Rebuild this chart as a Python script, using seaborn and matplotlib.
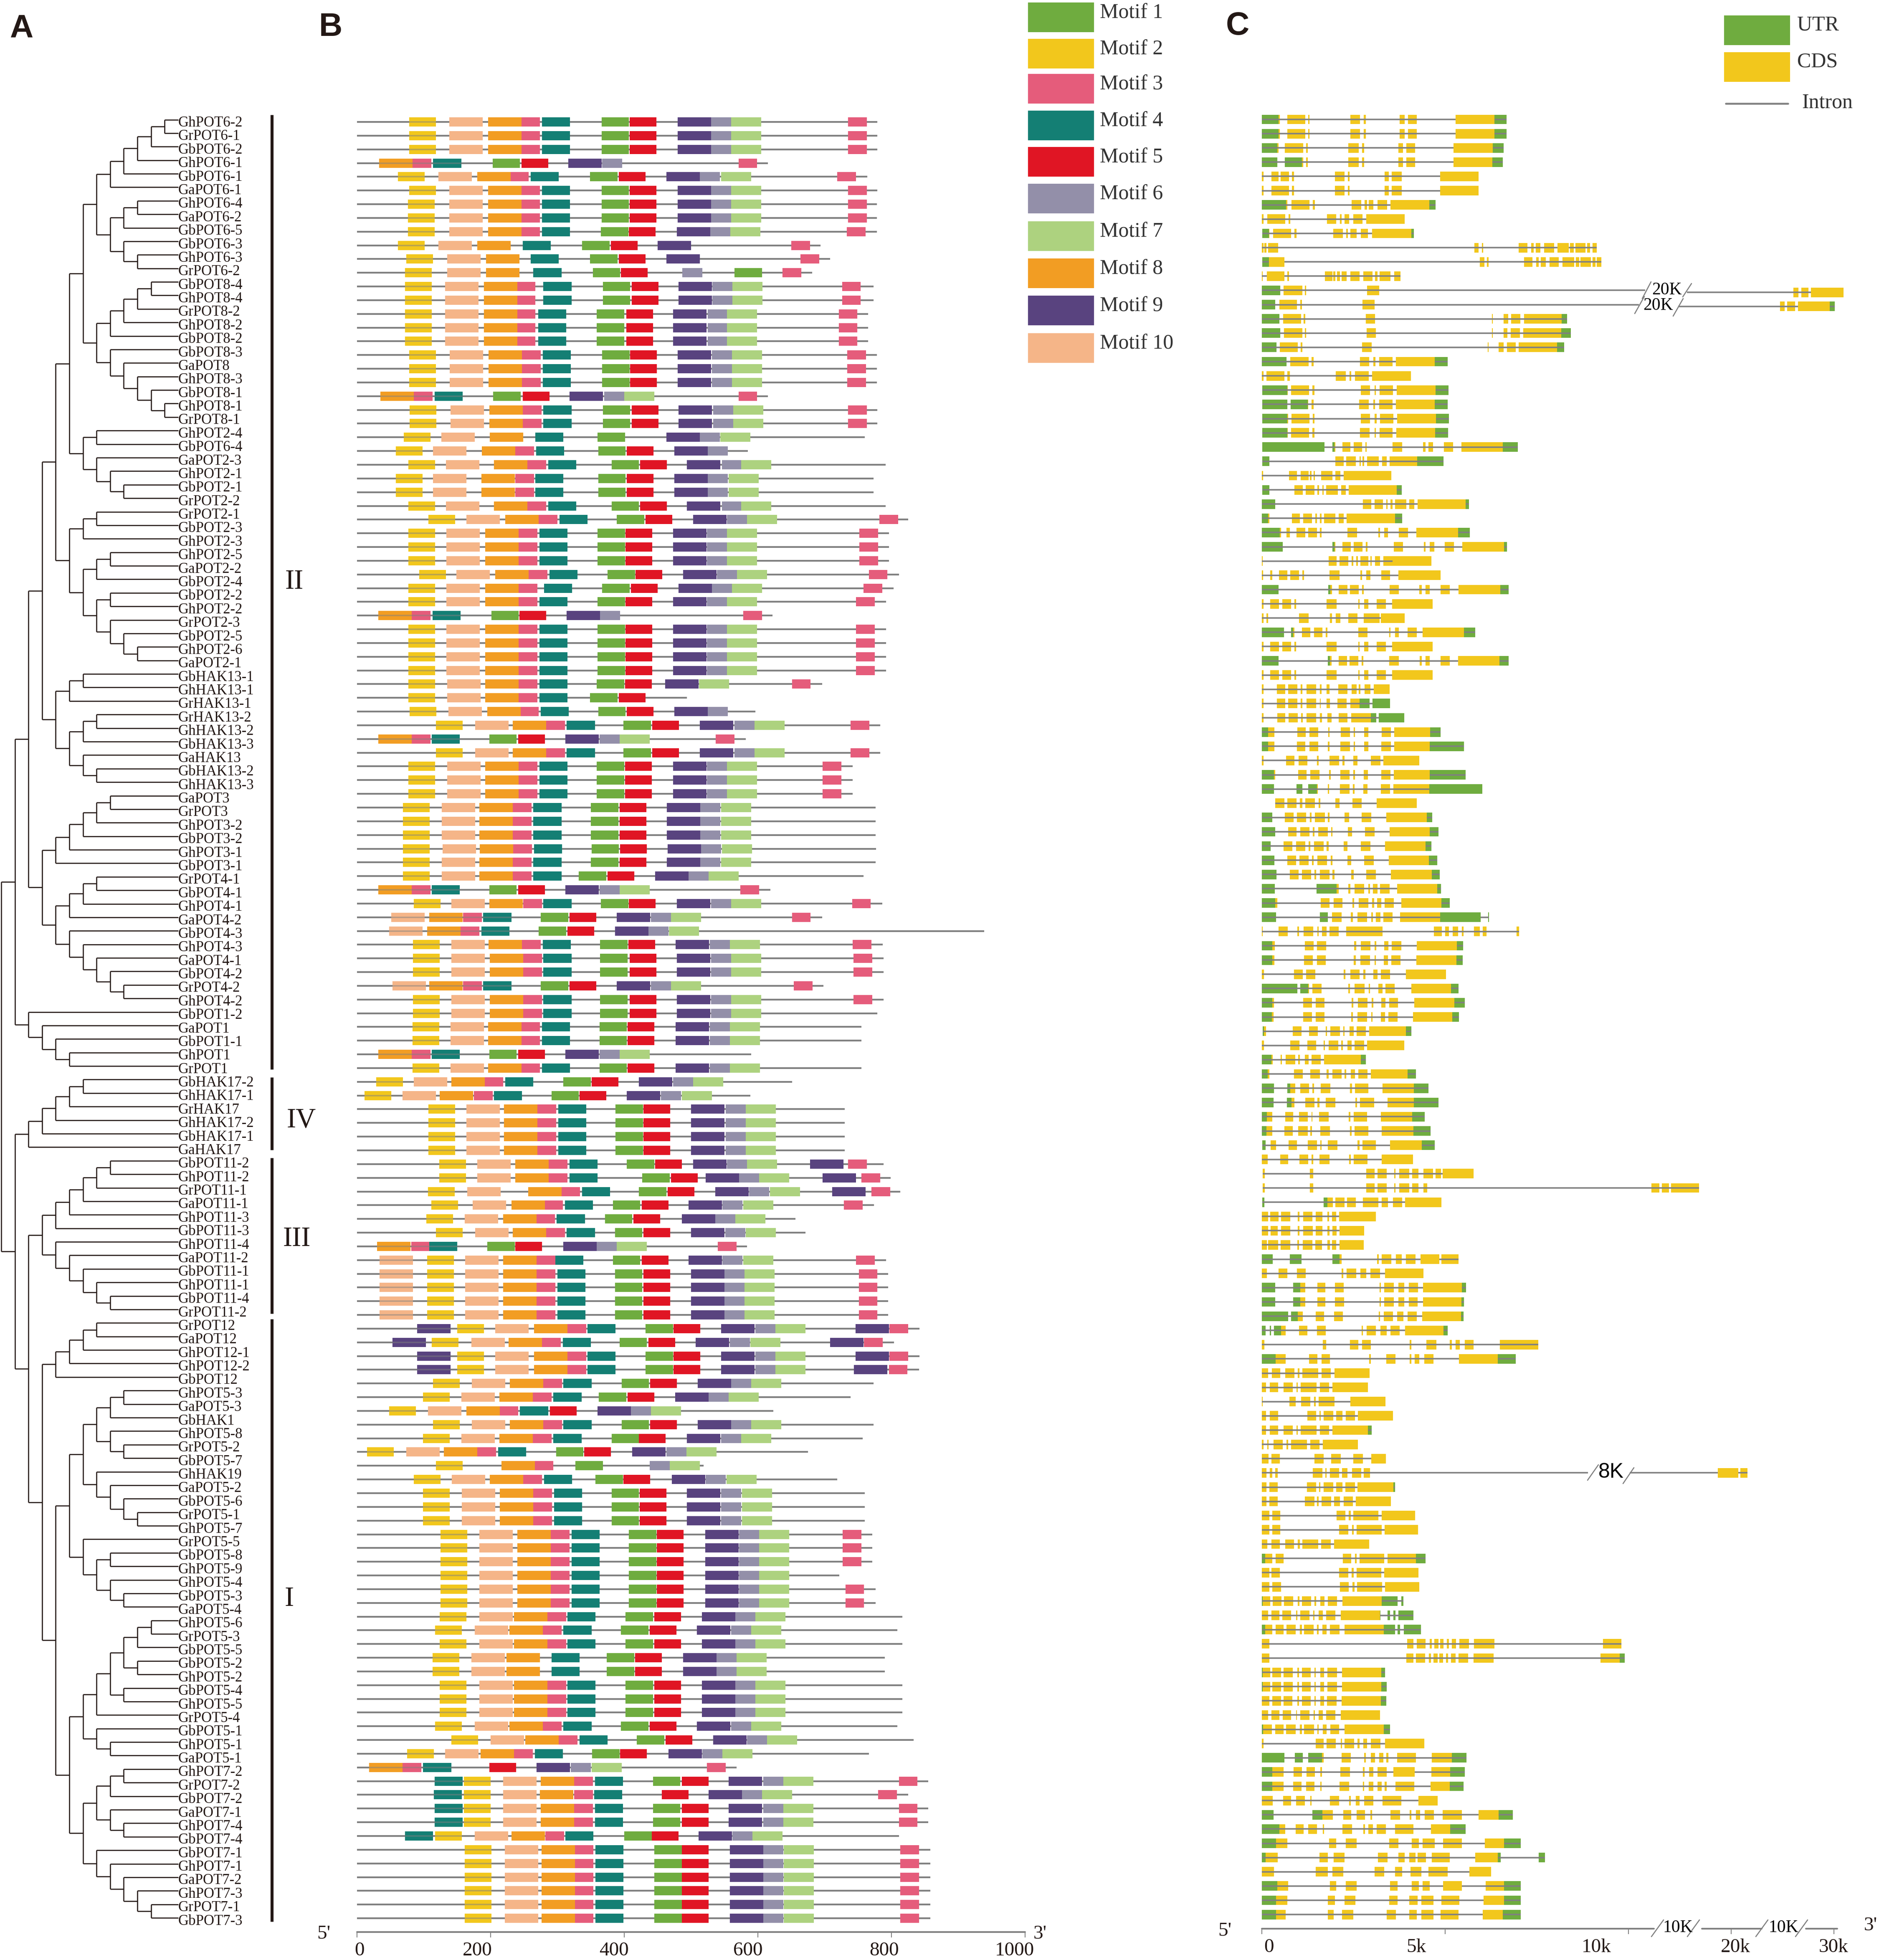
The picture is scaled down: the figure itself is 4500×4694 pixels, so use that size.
"""
Gene family figure: A cladogram, B conserved motifs, C exon/intron structure.
Rows in the three panels are not aligned (134 / 132 / 127), same as the source.
"""
import matplotlib.pyplot as plt
import pandas as pd
import seaborn as sns

W, H = 4500, 4694
PT = 72 / 100  # one picture pixel in points at dpi 100
INK = "#231815"
GREY = "#808080"
_ = None

# ---- panel A: tree, depth of a node = how deep the list is nested
pot6_upper = [[[[["GhPOT6-2", "GrPOT6-1"], "GbPOT6-2"], "GhPOT6-1"], "GbPOT6-1"], "GaPOT6-1"]
pot6_lower = [[["GhPOT6-4", "GaPOT6-2"], "GbPOT6-5"], ["GbPOT6-3", ["GhPOT6-3", "GrPOT6-2"]]]
pot8_upper = [[[["GbPOT8-4", "GhPOT8-4"], "GrPOT8-2"], "GhPOT8-2"], "GbPOT8-2"]
pot8_lower = ["GbPOT8-3", ["GaPOT8", ["GhPOT8-3", ["GbPOT8-1", ["GhPOT8-1", "GrPOT8-1"]]]]]
pot2_a = [["GhPOT2-4", "GbPOT6-4"], ["GaPOT2-3", ["GhPOT2-1", ["GbPOT2-1", "GrPOT2-2"]]]]
pot2_b = [[["GrPOT2-1", "GbPOT2-3"], "GhPOT2-3"],
          [[["GhPOT2-5", "GaPOT2-2"], "GbPOT2-4"],
           [["GbPOT2-2", "GhPOT2-2"], ["GrPOT2-3", ["GbPOT2-5", ["GhPOT2-6", "GaPOT2-1"]]]]]]
hak13 = [[["GbHAK13-1", "GhHAK13-1"], "GrHAK13-1"],
         [[["GrHAK13-2", "GhHAK13-2"], "GbHAK13-3"], ["GaHAK13", ["GbHAK13-2", "GhHAK13-3"]]]]
pot3 = [[[[["GaPOT3", "GrPOT3"], "GhPOT3-2"], "GbPOT3-2"], "GhPOT3-1"], "GbPOT3-1"]
pot4 = [[[["GrPOT4-1", "GbPOT4-1"], "GhPOT4-1"], "GaPOT4-2"],
        ["GbPOT4-3", ["GhPOT4-3", ["GaPOT4-1", ["GbPOT4-2", ["GrPOT4-2", "GhPOT4-2"]]]]]]
pot1 = ["GbPOT1-2", ["GaPOT1", ["GbPOT1-1", ["GhPOT1", "GrPOT1"]]]]
hak17 = [[[[["GbHAK17-2", "GhHAK17-1"], "GrHAK17"], "GhHAK17-2"], "GbHAK17-1"], "GaHAK17"]
pot11 = [[[[[["GbPOT11-2", "GhPOT11-2"], "GrPOT11-1"], "GaPOT11-1"], "GhPOT11-3"], "GbPOT11-3"],
         ["GhPOT11-4", ["GaPOT11-2", ["GbPOT11-1", ["GhPOT11-1", ["GbPOT11-4", "GrPOT11-2"]]]]]]
pot12 = [[[["GrPOT12", "GaPOT12"], "GhPOT12-1"], "GhPOT12-2"], "GbPOT12"]
pot5_a = [[[[[["GhPOT5-3", "GaPOT5-3"], "GbHAK1"], ["GhPOT5-8", ["GrPOT5-2", "GbPOT5-7"]]],
            ["GhHAK19", ["GaPOT5-2", ["GbPOT5-6", ["GrPOT5-1", "GhPOT5-7"]]]]],
           ["GrPOT5-5", [["GbPOT5-8", "GhPOT5-9"], ["GhPOT5-4", ["GbPOT5-3", "GaPOT5-4"]]]]]]
pot5_a = pot5_a[0]
pot5_b = [[[[[["GhPOT5-6", "GrPOT5-3"], "GbPOT5-5"], ["GbPOT5-2", "GhPOT5-2"]],
            ["GbPOT5-4", "GhPOT5-5"]], "GrPOT5-4"],
          ["GbPOT5-1", ["GhPOT5-1", "GaPOT5-1"]]]
pot7 = [[[["GhPOT7-2", "GrPOT7-2"], "GbPOT7-2"], ["GaPOT7-1", ["GhPOT7-4", "GbPOT7-4"]]],
        ["GbPOT7-1", ["GhPOT7-1", ["GaPOT7-2", ["GhPOT7-3", ["GrPOT7-1", "GbPOT7-3"]]]]]]
tree = [[[[[[[[pot6_upper, pot6_lower], [pot8_upper, pot8_lower]], pot2_a], pot2_b], hak13],
          [pot3, pot4]], pot1],
        [hak17, [pot11, [pot12, [pot5_a, [pot5_b, pot7]]]]]]

# ---- panel B: motif starts in aa
# order: M2, M10, M8, M3, M4, M1, M5, M9, M6, M7, last M3, protein length
motif_order = ["Motif 2", "Motif 10", "Motif 8", "Motif 3", "Motif 4", "Motif 1",
               "Motif 5", "Motif 9", "Motif 6", "Motif 7", "Motif 3"]
motifs_pot6 = [
    (78, 138, 196, 246, 277, 366, 408, 480, 530, 560, 735, 779),
    (78, 138, 196, 246, 277, 366, 408, 480, 530, 560, 735, 779),
    (78, 138, 196, 246, 277, 366, 408, 480, 530, 560, 735, 779),
    (_, _, 33, 83, 114, 203, 246, 316, 367, _, 571, 615),
    (61, 122, 180, 229, 260, 349, 392, 463, 513, 545, 719, 764),
    (78, 138, 196, 246, 277, 366, 408, 480, 530, 560, 735, 779),
    (76, 138, 196, 246, 277, 366, 408, 480, 530, 560, 735, 778),
    (76, 138, 196, 246, 277, 366, 408, 480, 530, 560, 735, 778),
    (76, 138, 196, 246, 277, 365, 407, 479, 529, 559, 733, 778),
    (61, 122, 180, _, 248, 337, 380, 450, _, _, 650, 694),
    (74, 135, 193, _, 260, 349, 392, 463, _, _, 664, 708),
    (72, 135, 193, _, 264, 353, 395, _, 487, _, 637, 681),
]
motifs_pot8 = [
    (72, 132, 190, 239, 279, 368, 411, 481, 532, 562, 726, 773),
    (72, 132, 190, 239, 279, 368, 411, 481, 532, 562, 726, 773),
    (72, 132, 190, 239, 271, 359, 403, 473, 525, 554, 721, 765),
    (72, 132, 190, 239, 271, 359, 403, 473, 525, 554, 721, 765),
    (72, 132, 190, 239, 271, 359, 403, 473, 525, 554, 721, 765),
    (78, 139, 197, 247, 278, 367, 409, 480, 531, 561, 734, 778),
    (78, 139, 197, 247, 278, 367, 409, 480, 531, 561, 734, 778),
    (78, 139, 197, 247, 278, 367, 409, 480, 531, 561, 734, 778),
    (_, _, 35, 85, 116, 204, 248, 318, 370, 400, 571, 615),
    (79, 140, 198, 248, 279, 368, 411, 481, 533, 563, 735, 779),
    (79, 140, 198, 248, 279, 368, 411, 481, 533, 563, 735, 779),
]
motifs_pot2 = [
    (70, 126, 199, _, 267, 360, _, 463, 513, 544, _, 760),
    (58, 114, 187, 237, 268, 361, 404, 475, 525, _, _, 585),
    (77, 133, 205, 255, 286, 381, 424, 494, 546, 575, _, 791),
    (58, 114, 186, 237, 267, 361, 404, 475, 525, 556, _, 773),
    (58, 114, 186, 237, 267, 361, 404, 475, 525, 556, _, 773),
    (77, 133, 205, 255, 286, 381, 424, 494, 546, 575, _, 791),
    (107, 164, 222, 272, 303, 389, 432, 503, 554, 584, 782, 825),
    (77, 134, 192, 242, 273, 360, 402, 473, 524, 554, 752, 796),
    (77, 134, 192, 242, 273, 360, 402, 473, 524, 554, 752, 796),
    (77, 134, 192, 242, 273, 360, 402, 473, 524, 554, 752, 796),
    (93, 149, 207, 257, 288, 375, 417, 488, 539, 569, 766, 811),
    (77, 134, 192, 242, 280, 367, 410, 481, 531, 561, 758, 803),
    (77, 134, 192, 242, 273, 360, 402, 473, 524, 554, 747, 792),
    (_, _, 32, 82, 113, 201, 243, 314, 364, _, 578, 622),
    (77, 134, 192, 242, 273, 360, 402, 473, 524, 554, 747, 792),
    (77, 134, 192, 242, 273, 360, 402, 473, 524, 554, 747, 792),
    (77, 134, 192, 242, 273, 360, 402, 473, 524, 554, 747, 792),
    (77, 134, 192, 242, 273, 360, 402, 473, 524, 554, 747, 792),
]
motifs_hak13 = [
    (77, 135, 192, 242, 273, 359, 401, 461, _, 512, 651, 696),
    (77, 135, 192, 242, 273, 349, 392, _, _, _, _, 494),
    (79, 137, 195, 244, 275, 361, 404, 475, 525, _, _, 596),
    (118, 177, 233, 283, 314, 399, 442, 513, 565, 595, 739, 783),
    (_, _, 32, 82, 112, 198, 241, 312, 363, 393, 537, 582),
    (118, 177, 233, 283, 314, 399, 442, 513, 565, 595, 739, 783),
    (77, 135, 192, 242, 273, 359, 401, 473, 524, 554, 697, 742),
    (77, 135, 192, 242, 273, 359, 401, 473, 524, 554, 697, 742),
    (77, 135, 192, 242, 273, 359, 401, 473, 524, 554, 697, 742),
]
motifs_pot34 = [
    (69, 127, 183, 233, 264, 350, 393, 464, 514, 545, _, 776),
    (69, 127, 183, 233, 264, 350, 393, 464, 514, 545, _, 776),
    (69, 127, 183, 233, 264, 350, 393, 464, 514, 545, _, 776),
    (69, 128, 184, 234, 265, 351, 394, 465, 515, 546, _, 777),
    (69, 127, 183, 233, 264, 350, 393, 464, 514, 545, _, 776),
    (69, 127, 183, 233, 264, 332, 375, 446, 496, 526, _, 758),
    (_, _, 32, 82, 112, 198, 241, 312, 363, 393, 574, 619),
    (85, 141, 198, 249, 279, 365, 407, 479, 530, 560, 741, 786),
    (_, 51, 108, 159, 189, 275, 318, 389, 440, 470, 651, 696),
    (_, 48, 105, 155, 186, 272, 315, 386, 436, 467, _, 939),
    (84, 141, 197, 247, 278, 364, 406, 477, 528, 558, 742, 787),
    (84, 141, 199, 249, 279, 364, 408, 479, 530, 560, 743, 788),
    (84, 141, 199, 249, 279, 364, 408, 479, 530, 560, 743, 788),
    (_, 53, 108, 159, 189, 275, 318, 389, 440, 470, 654, 698),
    (84, 141, 199, 249, 279, 364, 408, 479, 530, 560, 743, 788),
]
motifs_pot1_hak17 = [
    (84, 141, 199, 249, 279, 364, 408, 479, 530, 560, _, 779),
    (83, 140, 196, 246, 277, 363, 405, 477, 528, 558, _, 755),
    (83, 140, 196, 246, 277, 363, 405, 477, 528, 558, _, 755),
    (_, _, 32, 82, 112, 198, 241, 312, 363, 393, _, 590),
    (83, 140, 196, 246, 277, 363, 405, 477, 528, 558, _, 755),
    (29, 85, 141, 191, 222, 309, 351, 422, 473, 503, _, 651),
    (11, 68, 124, 175, 205, 291, 333, 404, 455, 486, _, 589),
    (107, 164, 220, 270, 301, 387, 429, 500, 552, 582, _, 730),
    (107, 164, 220, 270, 301, 387, 429, 500, 552, 582, _, 730),
    (107, 164, 220, 270, 301, 387, 429, 500, 552, 582, _, 730),
    (107, 164, 220, 270, 301, 387, 429, 500, 552, 582, _, 730),
]
motifs_pot11 = [
    (123, 180, 237, 287, 318, 404, 446, 503, 554, 584, 735, 788),
    (123, 180, 237, 287, 318, 427, 470, 522, 572, 602, 755, 799),
    (106, 165, 256, 306, 337, 422, 465, 536, 587, 618, 770, 813),
    (111, 173, 231, 280, 311, 383, 426, 496, 547, 578, 729, 774),
    (104, 161, 219, 268, 299, 371, 414, 486, 536, 566, _, 656),
    (118, 177, 233, 283, 314, 386, 429, 500, 551, 582, _, 671),
    (_, _, 30, 81, 108, 195, 237, 309, 359, 389, 540, 584),
    (105, 162, 219, 269, 297, 383, 426, 496, 547, 578, 747, 792),
    (105, 162, 219, 269, 300, 386, 429, 500, 550, 580, 751, 795),
    (105, 162, 219, 269, 300, 386, 429, 500, 550, 580, 751, 795),
    (105, 162, 219, 269, 300, 386, 429, 500, 550, 580, 751, 795),
    (105, 162, 219, 269, 300, 386, 429, 500, 550, 580, 751, 795),
]
motifs_pot12 = [
    (150, 207, 265, 315, 345, 432, 474, 545, 596, 626, 797, 842),
    (112, 171, 227, 277, 308, 393, 436, 507, 558, 589, 759, 804),
    (150, 207, 265, 315, 345, 432, 474, 545, 596, 626, 797, 842),
    (150, 207, 265, 315, 345, 432, 474, 545, 596, 626, 796, 841),
    (114, 172, 229, 279, 309, 396, 439, 510, 560, 590, _, 773),
]
motifs_pot5 = [
    (99, 156, 213, 263, 294, 362, 405, 476, 526, 556, _, 739),
    (48, 106, 164, 213, 244, _, 289, 360, 410, 440, _, 623),
    (114, 172, 229, 279, 309, 396, 439, 510, 560, 590, _, 773),
    (99, 156, 213, 263, 294, 381, 422, 494, 545, 575, _, 757),
    (15, 74, 130, 180, 211, 298, 340, 412, 463, 493, _, 675),
    (118, _, 216, 266, _, 327, _, _, 438, 468, _, 519),
    (85, 142, 199, 249, 280, 357, 399, 471, 522, 553, _, 719),
    (99, 157, 214, 264, 295, 381, 423, 494, 545, 576, _, 760),
    (99, 157, 214, 264, 295, 381, 423, 494, 545, 576, _, 760),
    (99, 157, 214, 264, 295, 381, 423, 494, 545, 576, _, 760),
    (125, 183, 240, 290, 321, 407, 449, 521, 572, 602, 727, 771),
    (125, 183, 240, 290, 321, 407, 449, 521, 572, 602, 727, 771),
    (125, 183, 240, 290, 321, 407, 449, 521, 572, 602, 727, 771),
    (125, 183, 240, 290, 321, 407, 449, 521, 572, 602, _, 722),
    (125, 183, 240, 290, 321, 407, 449, 521, 572, 602, 731, 776),
    (125, 183, 240, 290, 321, 407, 449, 521, 572, 602, 731, 776),
    (124, 183, 235, 285, 315, 402, 445, 516, 566, 596, _, 816),
    (117, 176, 228, 278, 309, 395, 438, 509, 560, 590, _, 809),
    (124, 183, 235, 285, 315, 402, 445, 516, 566, 596, _, 816),
    (113, 171, 224, _, 291, 374, 416, 488, 538, 568, _, 790),
    (113, 171, 224, _, 291, 374, 416, 488, 538, 568, _, 790),
    (124, 183, 235, 285, 315, 402, 445, 516, 566, 596, _, 816),
    (124, 183, 235, 285, 315, 402, 445, 516, 566, 596, _, 816),
    (124, 183, 235, 285, 315, 402, 445, 516, 566, 596, _, 816),
    (117, 176, 228, 278, 309, 395, 438, 509, 560, 590, _, 809),
    (141, 200, 252, 302, 333, 419, 462, 533, 584, 614, _, 833),
    (75, 132, 185, 235, 266, 352, 394, 466, 517, 547, _, 766),
]
motifs_pot7 = [
    (_, _, 18, 68, 99, _, 198, 269, 320, 351, 524, 568),
    (160, 219, 275, 325, 356, 443, 486, 556, 608, 638, 811, 855),
    (160, 219, 274, 325, 355, _, 456, 526, 576, 606, 780, 825),
    (160, 219, 275, 325, 356, 443, 486, 556, 608, 638, 811, 855),
    (160, 219, 275, 325, 356, 443, 486, 556, 608, 638, 811, 855),
    (117, 176, 231, 282, 312, 400, 441, 511, 562, 592, _, 811),
    (161, 221, 276, 326, 357, 445, 486, 558, 608, 639, 813, 858),
    (161, 221, 276, 326, 357, 445, 486, 558, 608, 639, 813, 858),
    (161, 221, 276, 326, 357, 445, 486, 558, 608, 639, 813, 858),
    (161, 221, 276, 326, 357, 445, 486, 558, 608, 639, 813, 858),
    (161, 221, 276, 326, 357, 445, 486, 558, 608, 639, 813, 858),
    (161, 221, 276, 326, 357, 445, 486, 558, 608, 639, 813, 858),
]
# motif copies that do not fit the usual order, row -> start
extra_motif1 = {11: 565}
extra_motif9 = {76: 678, 77: 697, 78: 711, 88: 90, 89: 53, 90: 90, 91: 90}
extra_motif9_late = {88: 746, 89: 708, 90: 746, 91: 744}
extra_motif10 = {83: 34, 84: 34, 85: 34, 86: 34, 87: 34}
extra_motif4 = {121: 116, 122: 115, 123: 116, 124: 116, 125: 72}
motif_lengths = {"Motif 1": 41, "Motif 2": 40, "Motif 3": 28, "Motif 4": 42, "Motif 5": 40,
                 "Motif 6": 30, "Motif 7": 45, "Motif 8": 50, "Motif 9": 50, "Motif 10": 50}
motif_colors = {"Motif 1": "#6FAC3F", "Motif 2": "#F2C71C", "Motif 3": "#E55C7B",
                "Motif 4": "#147F74", "Motif 5": "#E01524", "Motif 6": "#938FA9",
                "Motif 7": "#ADD27F", "Motif 8": "#F29D23", "Motif 9": "#59437F",
                "Motif 10": "#F5B588"}

# ---- panel C: exons in units of 10 bp, u = UTR, c = CDS
exons_top = [
    "u0-46 c46-49 c69-118 c126-130 c242-268 c278-284 c376-389 c399-423 c528-634 u634-667",
    "u0-46 c46-49 c69-118 c126-130 c242-268 c278-284 c376-389 c399-423 c528-634 u634-667",
    "u0-42 c42-46 c63-113 c121-125 c236-264 c273-279 c372-385 c394-418 c523-630 u630-659",
    "u0-42 u63-109 c109-113 c121-125 c236-264 c273-279 c372-385 c394-418 c523-629 u629-657",
    "c0-4 c26-46 c51-74 c82-88 c199-225 c235-239 c335-346 c354-381 c486-591",
    "c0-4 c26-74 c82-88 c199-225 c235-239 c335-346 c354-381 c486-591",
    "u0-66 c66-70 c81-130 c139-145 c245-271 c280-287 c292-304 c315-342 c351-457 u457-474",
    "c0-4 c15-64 c73-78 c178-203 c213-218 c225-238 c249-274 c285-390",
    "u1-19 c19-21 c31-80 c89-94 c195-221 c230-235 c242-259 c270-289 c301-408 u408-415",
    "c0-4 c7-13 c17-44 c580-591 c600-604 c701-724 c735-741 c747-760 c770-797 c806-837 c841-851 c855-883 c887-895 c902-913",
    "u1-19 c19-62 c595-607 c614-619 c715-738 c748-755 c761-775 c785-810 c820-852 c856-866 c869-897 c902-910 c914-926",
    "c0-2 c14-62 c70-74 c172-192 c195-200 c205-213 c218-231 c241-267 c277-302 c309-316 c321-351 c361-378",
    "u0-50 c59-110 c117-121 c287-320 c1450-1463 c1471-1491 c1498-1587",
    "u0-37 c48-96 c105-109 c275-307 c1414-1426 c1433-1454 c1462-1549 u1549-1563",
    "u0-48 c58-107 c114-119 c284-309 c627-630 c659-672 c680-705 c715-818 u818-833",
    "u0-50 c60-110 c117-121 c286-311 c627-630 c659-670 c679-704 c713-817 u817-843",
    "u0-40 c49-98 c106-110 c273-299 c616-618 c646-659 c668-693 c701-805 u805-825",
    "u0-67 c78-127 c136-141 c268-293 c304-310 c320-357 c366-472 u472-507",
    "c0-4 c13-62 c70-76 c202-229 c239-244 c254-292 c301-407",
    "u1-69 c69-71 c80-129 c138-143 c270-295 c307-311 c321-358 c368-474 u474-509",
    "u1-70 u79-125 c125-126 c136-141 c265-292 c304-309 c320-356 c366-472 u472-507",
    "u1-70 c70-72 c81-130 c139-144 c270-295 c308-313 c322-359 c369-475 u475-510",
    "u1-69 c69-71 c80-129 c138-143 c268-294 c307-311 c321-357 c367-473 u473-508",
    "u1-171 u192-198 c198-200 c220-242 c250-273 c282-286 c357-383 c440-446 c455-467 c497-522 c544-657 u657-698",
    "u1-20 c200-223 c230-256 c266-270 c275-279 c287-319 c328-340 c348-424 u424-495",
    "c0-3 c74-96 c106-127 c131-135 c141-145 c162-192 c201-214 c223-353",
    "u1-20 c89-112 c120-143 c152-156 c165-168 c175-207 c216-229 c237-368 u368-382",
    "u0-36 c276-298 c307-330 c339-343 c351-356 c363-394 c402-416 c425-556 u556-565",
]
exons_mid_a = [
    "u0-17 c17-20 c82-104 c113-137 c146-150 c158-163 c170-201 c210-223 c231-363 u363-383",
    "u0-49 c49-52 c67-76 c95-118 c126-150 c158-163 c234-260 c318-322 c334-344 c374-399 c421-535 u535-567",
    "u0-57 u193-198 c198-201 c220-243 c251-275 c284-288 c360-385 c442-447 c458-470 c499-524 c547-661 u661-669",
    "c0-2 c182-204 c212-236 c245-249 c257-262 c269-291 c296-300 c309-322 c331-357 c357-462",
    "c0-3 c23-28 c47-70 c77-101 c110-115 c185-212 c269-273 c285-296 c326-350 c373-487",
    "u0-45 u181-187 c187-191 c210-233 c240-264 c273-278 c349-374 c429-436 c447-458 c488-513 c536-650 u650-673",
    "c0-4 c23-47 c56-80 c89-93 c177-204 c263-266 c279-291 c313-338 c355-466",
    "c0-4 c12-17 c101-127 c186-191 c202-214 c236-261 c278-321 c325-390",
    "u0-60 u80-85 c85-89 c109-132 c142-165 c174-179 c263-288 c347-351 c363-374 c398-422 c439-551 u551-582",
    "c0-4 c23-47 c56-80 c89-93 c177-204 c263-266 c279-291 c313-338 c355-466",
    "u0-45 u180-186 c186-190 c209-232 c239-263 c272-277 c347-374 c431-436 c447-458 c487-512 c535-648 u648-673",
    "c0-4 c23-47 c56-80 c89-93 c177-204 c263-266 c279-291 c313-338 c355-466",
    "c0-4 c41-64 c72-97 c106-111 c122-148 c158-163 c177-184 c208-234 c245-259 c264-269 c280-296 c305-349",
    "c0-4 c41-64 c72-97 c106-111 c122-148 c158-161 c176-186 c206-231 c242-267 u267-294 u302-350",
    "c0-4 c42-64 c73-98 c107-112 c122-148 c158-164 c179-190 c209-234 c244-297 u297-312 u319-388",
    "u0-17 c17-34 c97-120 c130-154 c181-185 c215-240 c250-254 c279-291 c327-352 c361-459 u459-487",
    "u0-17 c17-34 c96-119 c130-154 c180-185 c214-240 c250-254 c279-290 c326-352 c361-458 u458-551",
    "c0-4 c66-89 c100-124 c150-155 c185-211 c220-225 c249-261 c297-323 c331-429",
    "u0-33 c33-37 c99-122 c132-157 c183-188 c214-239 c249-254 c278-289 c326-351 c360-458 u458-556",
    "u0-33 u95-110 u126-150 c150-153 c180-183 c213-239 c248-253 c277-288 c325-350 c359-457 u457-601",
    "c37-61 c70-95 c104-110 c119-145 c155-159 c200-212 c247-272 c313-423",
    "u0-28 c63-87 c96-121 c131-135 c145-172 c180-185 c226-238 c272-298 c339-450 u450-465",
    "u0-36 c72-95 c105-130 c139-144 c154-180 c189-193 c235-246 c281-307 c348-458 u458-482",
    "u0-24 c59-83 c93-118 c127-132 c142-169 c177-182 c223-234 c270-296 c336-447 u447-462",
    "u0-34 c69-93 c103-128 c137-141 c152-178 c188-192 c233-244 c279-305 c346-456 u456-478",
    "u0-40 c76-100 c109-134 c144-148 c158-185 c193-198 c244-250 c285-311 c352-463 u463-485",
    "u0-35 u149-204 c204-209 c236-241 c253-279 c290-295 c303-315 c322-349 c369-478 u478-489",
    "u0-36 c36-42 c161-185 c196-220 c247-252 c264-291 c301-306 c314-326 c335-360 c380-490 u490-513",
    "u0-39 u158-180 c191-217 c243-248 c261-287 c298-303 c311-323 c331-357 c377-486 u486-597 u617-620",
    "c0-2 c46-71 c97-101 c114-140 c151-155 c164-176 c185-210 c230-329 c469-491 c500-510 c521-535 c545-550 c579-595 c603-613 c695-702",
    "u0-29 c29-35 c117-141 c150-175 c252-257 c270-296 c307-312 c334-345 c354-380 c423-532 u532-549",
    "u0-28 c28-34 c115-139 c150-174 c250-256 c269-295 c307-311 c333-344 c353-378 c421-531 u531-548",
    "c0-6 c88-112 c121-146 c223-228 c241-267 c277-282 c304-316 c325-350 c393-502",
]
exons_mid_b = [
    "u0-97 u105-126 c126-129 c138-163 c236-240 c253-280 c292-295 c318-329 c337-362 c408-516 u516-536",
    "u0-28 c28-33 c113-137 c147-171 c245-249 c262-288 c300-304 c326-337 c347-371 c416-525 u525-553",
    "u0-27 c27-32 c113-137 c147-171 c244-248 c261-287 c298-302 c325-336 c345-370 c412-519 u519-538",
    "u2-6 c6-11 c84-108 c129-153 c174-178 c187-213 c222-226 c239-250 c259-284 c293-393 u393-408",
    "c0-6 c78-103 c124-148 c168-172 c182-208 c216-221 c233-245 c253-279 c287-388",
    "u0-26 c26-30 c51-55 c65-91 c99-104 c117-127 c136-161 c170-270 u270-284",
    "u0-16 c16-21 c88-112 c132-158 c177-182 c192-218 c226-230 c243-254 c263-288 c297-397 u397-420",
    "u0-33 u69-78 c78-91 c105-129 c138-142 c161-187 c240-246 c254-291 c329-415 u415-455",
    "u0-32 u68-81 c81-89 c119-143 c152-157 c174-200 c255-260 c268-306 c343-415 u415-482",
    "u0-14 c14-29 c64-85 c101-125 c135-138 c156-182 c237-241 c250-287 c325-410 u410-444",
    "u0-13 c13-28 c62-84 c99-125 c132-137 c159-186 c240-245 c253-290 c327-414 u414-460",
    "u1-10 c24-39 c73-96 c125-150 c159-163 c180-206 c261-266 c274-311 c350-436 u436-472",
    "c0-16 c50-72 c103-126 c136-140 c157-184 c238-243 c251-288 c327-412",
    "c2-8 c131-140 c285-307 c315-340 c361-365 c375-402 c410-427 c441-467 c474-489 c493-577",
    "c2-8 c131-140 c285-307 c315-340 c361-365 c375-402 c410-427 c441-451 c1063-1084 c1091-1110 c1116-1192",
    "u1-7 u168-179 c179-194 c201-225 c232-256 c276-318 c327-344 c358-383 c391-490",
    "c0-17 c23-46 c52-77 c98-102 c113-138 c147-165 c179-183 c191-203 c211-311",
    "c0-17 c24-43 c52-78 c98-102 c113-139 c147-165 c179-184 c192-204 c212-279",
    "c0-14 c17-44 c51-77 c97-101 c112-138 c146-164 c179-186 c191-203 c212-278",
    "u0-30 u76-108 u192-212 c212-217 c314-319 c327-353 c366-381 c393-419 c433-484 c490-537",
    "c0-14 c46-69 c96-120 c218-222 c231-257 c269-285 c296-322 c336-441",
    "u0-36 u85-105 c105-118 c151-173 c199-223 c321-325 c334-360 c372-388 c401-426 c440-545 u545-557",
    "u0-36 u85-105 c105-118 c151-173 c199-224 c321-325 c334-360 c372-388 c401-425 c440-544 u544-551",
    "u0-72 u80-98 c98-112 c147-170 c197-221 c319-322 c333-358 c369-386 c398-423 c437-543 u543-550",
    "u0-10 u22-25 u33-52 c52-65 c101-124 c150-174 c272-276 c286-311 c323-340 c351-376 c391-496 u496-507",
    "c0-7 c166-175 c240-263 c273-297 c403-408 c449-476 c513-518 c529-540 c553-578 c649-754",
    "u0-38 c38-65 c129-152 c163-186 c293-297 c339-365 c403-408 c417-429 c443-468 c538-644 u644-692",
    "c0-17 c27-50 c64-89 c98-103 c111-154 c163-188 c198-294",
    "c0-11 c22-44 c59-84 c94-98 c106-149 c158-183 c192-289",
    "c0-2 c75-92 c107-132 c142-147 c155-198 c241-337",
    "c0-11 c22-44 c124-148 c157-161 c169-195 c203-220 c229-254 c262-358",
    "c0-11 c22-44 c59-84 c94-98 c106-149 c158-183 c192-289 u289-300",
    "c0-5 c15-18 c32-57 c67-72 c80-123 c132-157 c166-262",
]
exons_bottom = [
    "c0-18 c26-49 c143-169 c189-215 c249-276 c298-338",
    "c0-12 c22-29 c36-43 c139-165 c173-177 c186-211 c219-233 c246-271 c278-295 c1244-1299 c1305-1325",
    "c0-12 c21-43 c123-148 c156-160 c169-195 c203-220 c228-254 c261-359 u359-363",
    "c0-12 c21-43 c117-143 c150-155 c163-189 c197-213 c223-248 c256-352",
    "c0-20 c28-50 c204-228 c237-243 c249-318 c327-418",
    "c0-20 c28-50 c211-236 c246-251 c259-327 c335-426",
    "c0-15 c26-49 c64-88 c98-104 c110-154 c162-188 c197-293",
    "u0-9 c9-28 c38-59 c221-244 c254-259 c267-334 c343-420 u420-447",
    "c0-20 c26-49 c211-236 c245-250 c258-326 c334-427",
    "c0-20 c28-52 c213-237 c247-253 c260-328 c336-429",
    "u0-2 c2-23 c30-53 c60-85 c98-102 c109-134 c143-148 c160-171 c180-205 c220-327 u327-370 u380-386",
    "c0-17 c26-48 c56-80 c93-97 c105-130 c140-144 c155-166 c175-200 c215-322 u322-324 u343-350 u359-364 u373-414",
    "u0-9 c9-28 c38-59 c67-92 c104-109 c115-141 c150-155 c165-177 c186-212 c226-333 u333-363 u370-377 u387-434",
    "c0-21 c396-414 c422-447 c458-463 c470-482 c486-496 c504-510 c518-530 c539-565 c579-634 c930-981",
    "c0-21 c394-413 c420-445 c456-461 c468-480 c484-494 c502-508 c516-529 c537-563 c577-632 c924-976 u976-990",
    "u0-2 c2-23 c29-52 c59-84 c97-101 c109-133 c143-147 c159-170 c179-205 c219-326 u326-336",
    "u0-2 c2-23 c29-52 c59-84 c97-101 c109-133 c143-147 c159-170 c179-205 c219-326 u326-340",
    "c0-20 c29-52 c59-83 c97-101 c109-133 c143-147 c159-170 c178-204 c217-325 u325-339",
    "c0-17 c26-48 c57-80 c93-96 c105-130 c141-145 c155-166 c175-201 c215-322",
    "u0-3 c3-27 c37-59 c66-92 c104-109 c115-142 c151-155 c166-177 c187-211 c226-333 u333-350",
    "c0-4 c147-169 c177-202 c215-219 c226-252 c261-266 c277-287 c297-323 c336-443",
    "u0-61 u90-112 u126-164 c164-168 c217-243 c279-284 c297-309 c320-331 c339-345 c369-420 c464-518 u518-558",
    "u0-28 c28-59 c86-109 c122-145 c160-164 c214-240 c276-280 c293-304 c316-341 c359-417 c462-514 u514-554",
    "u0-28 c28-59 c85-108 c121-144 c159-163 c212-238 c276-279 c292-304 c315-327 c335-340 c364-416 c460-513 u513-550",
    "c0-30 c58-80 c93-117 c132-136 c186-211 c238-243 c256-267 c279-304 c329-380 c427-480",
    "u0-32 u138-165 c165-194 c222-244 c258-281 c296-301 c351-377 c403-408 c420-432 c444-469 c493-545 c591-646 u646-684",
    "u0-48 c48-64 c92-114 c126-150 c166-170 c220-246 c277-281 c291-303 c313-338 c363-414 c461-514 u514-556",
    "u0-39 c39-69 c183-203 c229-258 c347-373 c409-428 c438-471 c494-546 c608-661 u661-706",
    "u0-10 c10-43 c157-180 c196-226 c317-343 c373-389 c402-419 c425-448 c464-513 c582-644 u644-651 u755-772",
    "c0-33 c147-180 c193-222 c307-334 c363-383 c405-435 c455-507 c566-625",
    "u0-42 c42-72 c186-203 c229-258 c350-370 c409-428 c438-458 c494-546 c611-661 u661-706",
    "u0-39 c39-69 c180-199 c226-255 c347-370 c402-425 c435-468 c490-539 c605-661 u661-706",
    "u0-39 c39-65 c180-196 c219-249 c340-366 c402-422 c435-468 c487-536 c602-657 u657-706",
]
# row -> last bp unit before the break, first after it, shift of the far part in rows
row_breaks = {12: (1046, 1160, 0.14), 13: (1028, 1135, 0.12), 95: (889, 1003, 0.0)}
line_over_big_cds = [14, 15, 16, 24, 57, 68, 69, 70, 71, 75, 86, 101, 106, 107, 108]

aa_tick_values = [0, 200, 400, 600, 800, 1000]
aa_tick_labels = ["0", "200", "400", "600", "800", "1000"]
aa_label_x = [861, 1143, 1470, 1791, 2118, 2430]
bp_tick_values = [0, 500, 1000, 1280, 1560]
bp_tick_labels = ["0", "5k", "10k", "20k", "30k"]
bp_label_x = [3039, 3392, 3823, 4156, 4391]
bp_axis_pieces = [(0, 1069), (1200, 1363), (1484, 1569)]

# (start pixel, step) of the rows and the scale of each panel
A_Y0, A_DY = 286.5, 32.38
B_Y0, B_DY = 292.0, 32.84
C_Y0, C_DY = 286.0, 34.12
B_X0, B_PX = 855.0, 1.6
C_X0, C_PX = 3022.0, 0.878
LEAF_DEPTH = 13


def row_axes(fig, x0, x1, xlim, y0, dy):
    top, bottom = y0 - dy, H
    ax = fig.add_axes([x0 / W, 1 - bottom / H, (x1 - x0) / W, (bottom - top) / H])
    ax.set_xlim(*xlim)
    ax.set_ylim((bottom - y0) / dy, -1)
    ax.set_axis_off()
    ax.patch.set_alpha(0)
    return ax


def walk_tree(node, depth, leaves, segments):
    """Return y of node, collecting leaf names and line pieces."""
    if isinstance(node, str):
        leaves.append(node)
        y = len(leaves) - 1
        segments.append((depth, y, LEAF_DEPTH, y))
        return y
    ys = [walk_tree(child, depth + 1, leaves, segments) for child in node]
    segments.append((depth + 1, ys[0], depth + 1, ys[-1]))
    y = (ys[0] + ys[-1]) / 2
    if depth >= 0:
        segments.append((depth, y, depth + 1, y))
    return y


def segments_frame(segments):
    rows = []
    for i, (x1, y1, x2, y2) in enumerate(segments):
        rows.append({"seg": i, "x": x1, "y": y1, "order": 0})
        rows.append({"seg": i, "x": x2, "y": y2, "order": 1})
    return pd.DataFrame(rows)


def draw_lines(segments, ax, color, width, zorder=1, alpha=1.0):
    sns.lineplot(data=segments_frame(segments), x="x", y="y", units="seg", estimator=None,
                 sort=False, color=color, linewidth=width * PT, ax=ax, legend=False,
                 zorder=zorder, alpha=alpha, solid_capstyle="butt")
    ax.set_xlabel("")
    ax.set_ylabel("")


def motif_table():
    rows = []
    all_rows = (motifs_pot6 + motifs_pot8 + motifs_pot2 + motifs_hak13 + motifs_pot34
                + motifs_pot1_hak17 + motifs_pot11 + motifs_pot12 + motifs_pot5 + motifs_pot7)
    for i, row in enumerate(all_rows):
        for name, start in zip(motif_order, row[:-1]):
            if start is not None:
                rows.append((i, name, start))
    for name, extra in (("Motif 1", extra_motif1), ("Motif 9", extra_motif9),
                        ("Motif 9", extra_motif9_late), ("Motif 10", extra_motif10),
                        ("Motif 4", extra_motif4)):
        rows += [(i, name, start) for i, start in extra.items()]
    return all_rows, pd.DataFrame(rows, columns=["row", "motif", "start"])


def exon_table(gene_rows):
    rows = []
    for i, text in enumerate(gene_rows):
        for token in text.split():
            start, end = token[1:].split("-")
            rows.append((i, token[0], int(start), int(end)))
    return pd.DataFrame(rows, columns=["row", "kind", "start", "end"])


sns.set_theme(style="white")
plt.rcParams["font.family"] = ["Liberation Serif", "DejaVu Serif"]

fig = plt.figure(figsize=(W / 100, H / 100), dpi=100, facecolor="white")

# panel A
ax_a = row_axes(fig, 0, 650, (-3 / 32.6, 647 / 32.6), A_Y0, A_DY)
leaves, tree_segments = [], []
walk_tree(tree, -1, leaves, tree_segments)
draw_lines(tree_segments, ax_a, INK, 2.6)
ax_a.set_xlim(-3 / 32.6, 647 / 32.6)
ax_a.set_ylim((H - A_Y0) / A_DY, -1)
for i, name in enumerate(leaves):
    ax_a.text(LEAF_DEPTH, i + 0.25, name, ha="left", va="center", fontsize=25, color=INK)

# panel B
ax_b = row_axes(fig, B_X0, B_X0 + 1000 * B_PX, (0, 1000), B_Y0, B_DY)
motif_rows, motif_df = motif_table()
backbone, overlay = [], []
for i, row in enumerate(motif_rows):
    backbone.append((0, i, row[-1], i))
    if row[0] is not None:
        overlay.append((0, i, row[0] + motif_lengths["Motif 2"], i))
    else:
        overlay.append((0, i, row[4] + motif_lengths["Motif 4"], i))
draw_lines(backbone, ax_b, GREY, 4.2, zorder=1)
for name, part in motif_df.groupby("motif"):
    ax_b.barh(part["row"], motif_lengths[name], left=part["start"], height=0.67,
              color=motif_colors[name], zorder=2, linewidth=0)
draw_lines(overlay, ax_b, GREY, 3.5, zorder=3, alpha=0.5)
axis_row = (4627 - B_Y0) / B_DY
tick_row = (4640 - B_Y0) / B_DY
ax_b.plot([0, 1000], [axis_row, axis_row], color=GREY, lw=4 * PT, clip_on=False)
ax_b.vlines(aa_tick_values, axis_row, tick_row, color=GREY, lw=2 * PT, clip_on=False)
ax_b.set_xlim(0, 1000)
ax_b.set_ylim((H - B_Y0) / B_DY, -1)

# panel C
ax_c = row_axes(fig, C_X0, W, (0, (W - C_X0) / C_PX), C_Y0, C_DY)
gene_rows = exons_top + exons_mid_a + exons_mid_b + exons_bottom
exon_df = exon_table(gene_rows)
introns = []
for i, part in exon_df.groupby("row"):
    first, last = part["start"].min(), part["end"].max()
    if i in row_breaks:
        left, right, shift = row_breaks[i]
        introns.append((first, i, left, i))
        introns.append((right, i + shift, last, i + shift))
    else:
        introns.append((first, i, last, i))
    big = part.loc[(part["end"] - part["start"]).idxmax()]
    for _idx, exon in part.iterrows():
        y = i
        if i in row_breaks and exon["start"] > row_breaks[i][1]:
            y = i + row_breaks[i][2]
        top = exon["start"] == big["start"] and i not in line_over_big_cds
        color = motif_colors["Motif 1"] if exon["kind"] == "u" else motif_colors["Motif 2"]
        ax_c.barh(y, exon["end"] - exon["start"], left=exon["start"], height=0.67,
                  color=color, zorder=4 if top else 2, linewidth=0)
draw_lines(introns, ax_c, GREY, 3.6, zorder=3)
axis_row = (4619 - C_Y0) / C_DY
tick_row = (4632 - C_Y0) / C_DY
for x1, x2 in bp_axis_pieces:
    ax_c.plot([x1, x2], [axis_row, axis_row], color=GREY, lw=4 * PT, clip_on=False)
ax_c.vlines(bp_tick_values, axis_row, tick_row, color=GREY, lw=2 * PT, clip_on=False)
ax_c.set_xlim(0, (W - C_X0) / C_PX)
ax_c.set_ylim((H - C_Y0) / C_DY, -1)

# everything placed on the page: legends, labels, break marks
page = fig.add_axes([0, 0, 1, 1], zorder=5)
page.set_xlim(0, W)
page.set_ylim(H, 0)
page.set_axis_off()
page.patch.set_alpha(0)

for letter, x, y in (("A", 51, 69), ("B", 792, 66), ("C", 2964, 63)):
    page.text(x, y, letter, family="Liberation Sans", weight="bold", fontsize=56,
              ha="center", va="center", color=INK)

clade_bars = [(275, 2561), (2580, 2754), (2773, 3146), (3159, 4602)]
for y1, y2 in clade_bars:
    page.plot([651, 651], [y1, y2], color=INK, lw=7 * PT, solid_capstyle="butt")
for text, x, y in (("II", 705, 1393), ("IV", 722, 2683), ("III", 711, 2968), ("I", 693, 3829)):
    page.text(x, y, text, fontsize=48, ha="center", va="center", color=INK)

legend_tops = [6, 93, 177, 265, 352, 440, 530, 619, 708, 798]
for i, top in enumerate(legend_tops):
    name = f"Motif {i + 1}"
    page.fill_between([2462, 2620], top, top + 71, color=motif_colors[name], lw=0)
    page.text(2634, top + 25, name, fontsize=36, ha="left", va="center", color="#333333")
for text, top, color in (("UTR", 37, motif_colors["Motif 1"]), ("CDS", 125, motif_colors["Motif 2"])):
    page.fill_between([4129, 4287], top, top + 71, color=color, lw=0)
    page.text(4304, top + 23, text, fontsize=36, ha="left", va="center", color="#333333")
page.plot([4133, 4282], [248, 248], color=GREY, lw=4.5 * PT)
page.text(4315, 246, "Intron", fontsize=36, ha="left", va="center", color="#333333")

for text, x in zip(aa_tick_labels, aa_label_x):
    page.text(x, 4672, text, fontsize=34, ha="center", va="center", color=INK)
for text, x in zip(bp_tick_labels, bp_label_x):
    page.text(x, 4664, text, fontsize=34, ha="center", va="center", color=INK)
for text, x, y in (("5'", 775, 4632), ("3'", 2491, 4632), ("5'", 2933, 4625), ("3'", 4480, 4612)):
    page.text(x, y, text, fontsize=34, ha="center", va="center", color=INK)

# axis breaks: slash pairs and their labels
slashes = [
    ((3955, 4638), (3984, 4598)), ((4041, 4638), (4070, 4598)),
    ((4205, 4638), (4234, 4598)), ((4300, 4638), (4329, 4598)),
    ((3933, 715), (3954, 675)), ((4030, 711), (4051, 679)),
    ((3915, 751), (3938, 710)), ((4007, 757), (4031, 715)),
    ((3802, 3545), (3828, 3508)), ((3887, 3553), (3913, 3515)),
]
for start, end in slashes:
    page.plot([start[0], end[0]], [start[1], end[1]], color=GREY, lw=2.6 * PT)
for text, x, y, size in (("10K", 4018, 4617, 30), ("10K", 4271, 4617, 30),
                         ("20K", 3992, 695, 30), ("20K", 3971, 732, 30)):
    page.text(x, y, text, fontsize=size, ha="center", va="center", color="black")
page.text(3858, 3526, "8K", family="Liberation Sans", fontsize=36, ha="center", va="center", color="black")

fig.savefig("out.png", dpi=100)
